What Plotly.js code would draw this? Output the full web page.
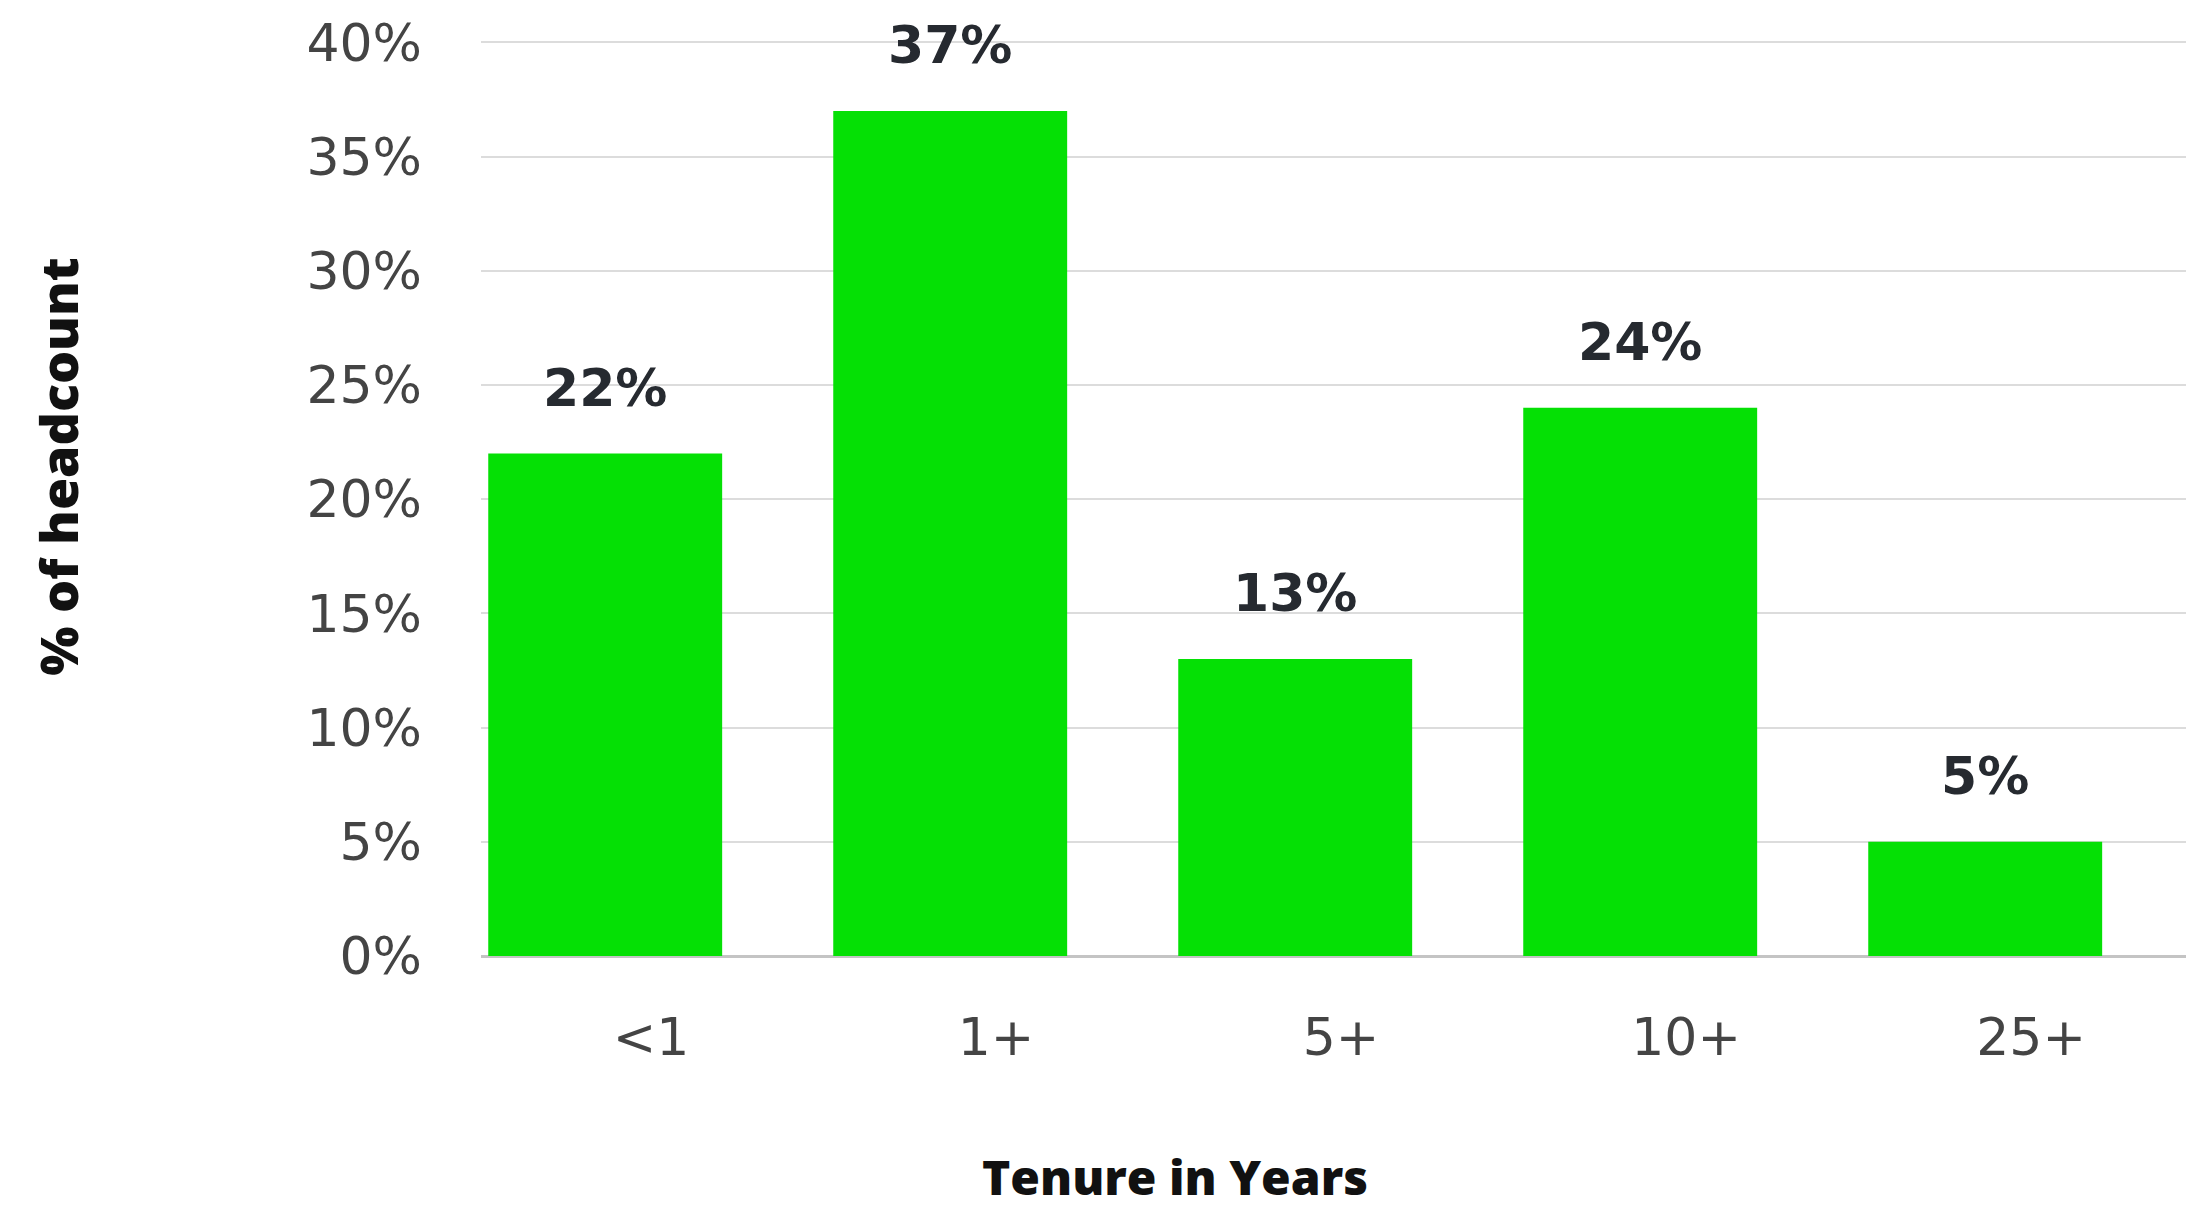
<!DOCTYPE html>
<html>
<head>
<meta charset="utf-8">
<script src="https://cdn.plot.ly/plotly-3.0.1.min.js"></script>
<style>html,body{margin:0;padding:0;background:#fff;}#chart{width:2186px;height:1211px;}</style>
</head>
<body>
<div id="chart"></div>
<script>
const categories = ["<1", "1+", "5+", "10+", "25+"];
const headcountPct = [22, 37, 13, 24, 5];
const valueLabels = ["22%", "37%", "13%", "24%", "5%"];
const yTickVals = [0, 5, 10, 15, 20, 25, 30, 35, 40];
const yTickText = ["0%", "5%", "10%", "15%", "20%", "25%", "30%", "35%", "40%"];

const barOffset = -0.472;
const barWidth = 0.678;

const trace = {
  type: "bar",
  x: categories,
  y: headcountPct,
  offset: barOffset,
  width: barWidth,
  marker: { color: "#05e005", line: { width: 0 } },
  hoverinfo: "none"
};

const annotations = headcountPct.map((v, i) => ({
  x: i + barOffset + barWidth / 2,
  y: v,
  xref: "x",
  yref: "y",
  text: valueLabels[i],
  showarrow: false,
  xanchor: "center",
  yanchor: "middle",
  yshift: 66,
  font: { family: "DejaVu Sans", size: 52, color: "#262a30", weight: 700 }
}));

annotations.push({
  xref: "paper", yref: "paper", x: -0.248, y: 0.529,
  text: "% of headcount", showarrow: false, textangle: -90,
  xanchor: "center", yanchor: "middle",
  font: { family: "Open Sans", size: 52, color: "#111", weight: 800 }
});
annotations.push({
  xref: "paper", yref: "paper", x: 0.407, y: -0.238,
  text: "Tenure in Years", showarrow: false,
  xanchor: "center", yanchor: "middle",
  font: { family: "Open Sans", size: 48, color: "#111", weight: 800 }
});

const layout = {
  width: 2186,
  height: 1211,
  margin: { l: 481, r: 0, t: 31, b: 255 },
  paper_bgcolor: "#ffffff",
  plot_bgcolor: "#ffffff",
  showlegend: false,
  xaxis: {
    type: "category",
    range: [-0.493, 4.449],
    showgrid: false,
    zeroline: false,
    showline: false,
    ticks: "",
    ticklabelstandoff: 46,
    tickfont: { family: "DejaVu Sans", size: 52, color: "#444" },
    fixedrange: true
  },
  yaxis: {
    range: [0, 40.5],
    tickvals: yTickVals,
    ticktext: yTickText,
    showgrid: true,
    gridcolor: "#dcdcdc",
    gridwidth: 2,
    zeroline: true,
    zerolinecolor: "#c4c4c4",
    zerolinewidth: 3,
    showline: false,
    ticks: "",
    ticklabelstandoff: 58,
    tickfont: { family: "DejaVu Sans", size: 52, color: "#444" },
    fixedrange: true
  },
  annotations: annotations
};

Plotly.newPlot("chart", [trace], layout, { displayModeBar: false, staticPlot: true });
</script>
</body>
</html>
